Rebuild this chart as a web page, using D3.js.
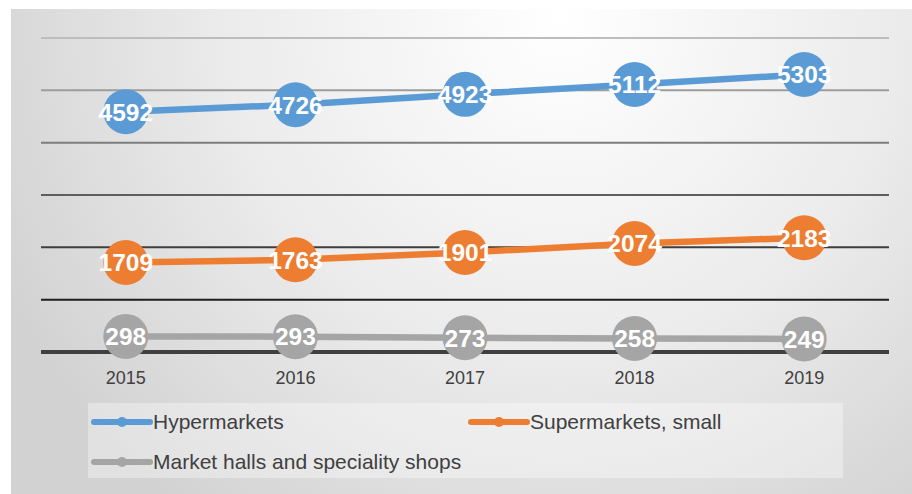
<!DOCTYPE html>
<html>
<head>
<meta charset="utf-8">
<script src="https://cdn.jsdelivr.net/npm/d3@7"></script>
<style>
  html, body { margin: 0; padding: 0; background: #fff; }
  svg { display: block; font-family: Arial, "Liberation Sans", sans-serif; }
</style>
</head>
<body>
<svg id="chart" width="912" height="494"></svg>
<script>
// Store counts by format, 2015–2019
const years = ["2015", "2016", "2017", "2018", "2019"];
const hypermarkets = [4592, 4726, 4923, 5112, 5303];
const supermarketsSmall = [1709, 1763, 1901, 2074, 2183];
const marketHalls = [298, 293, 273, 258, 249];
const seriesNames = ["Hypermarkets", "Supermarkets, small", "Market halls and speciality shops"];
const seriesColors = ["#5B9BD5", "#ED7D31", "#A5A5A5"];
const gridTicks = [0, 1000, 2000, 3000, 4000, 5000, 6000];

const series = [
  { name: seriesNames[0], values: hypermarkets, color: seriesColors[0] },
  { name: seriesNames[1], values: supermarketsSmall, color: seriesColors[1] },
  { name: seriesNames[2], values: marketHalls, color: seriesColors[2] }
];

const svg = d3.select("#chart");
const W = 912, H = 494;

// Background panel with a soft radial sheen
const defs = svg.append("defs");
const grad = defs.append("radialGradient")
  .attr("id", "bg")
  .attr("gradientUnits", "userSpaceOnUse")
  .attr("cx", 560).attr("cy", 20).attr("r", 620)
  .attr("fx", 560).attr("fy", 20);
grad.append("stop").attr("offset", "0%").attr("stop-color", "#ffffff");
grad.append("stop").attr("offset", "55%").attr("stop-color", "#ebebeb");
grad.append("stop").attr("offset", "100%").attr("stop-color", "#d2d2d2");

svg.append("rect")
  .attr("x", 11).attr("y", 9)
  .attr("width", W - 11).attr("height", H - 9)
  .attr("fill", "url(#bg)");

const plot = { left: 41, right: 889, top: 38, bottom: 352 };

const x = d3.scaleBand().domain(years).range([plot.left, plot.right]);
const y = d3.scaleLinear().domain([0, 6000]).range([plot.bottom, plot.top]);

// Gridlines: lighter at the top, darker toward the base
const gridColor = d3.scaleLinear().domain([1000, 6000]).range(["#1e1e1e", "#bdbdbd"]);
svg.append("g").selectAll("line")
  .data(gridTicks.filter(d => d > 0))
  .join("line")
  .attr("x1", plot.left).attr("x2", plot.right)
  .attr("y1", d => y(d)).attr("y2", d => y(d))
  .attr("stroke", d => gridColor(d))
  .attr("stroke-width", 2);

// Category axis baseline
svg.append("line")
  .attr("x1", plot.left).attr("x2", plot.right)
  .attr("y1", y(0)).attr("y2", y(0))
  .attr("stroke", "#404040")
  .attr("stroke-width", 4);

// Year labels
const xAxis = d3.axisBottom(x).tickSize(0).tickPadding(0);
const gx = svg.append("g")
  .attr("transform", `translate(0,${y(0)})`)
  .call(xAxis);
gx.select(".domain").remove();
gx.selectAll("text")
  .attr("dy", null)
  .attr("y", 32)
  .attr("fill", "#404040")
  .attr("font-size", 18)
  .attr("font-family", "Arial, 'Liberation Sans', sans-serif");

// Lines
const line = d3.line()
  .x((d, i) => x(years[i]) + x.bandwidth() / 2)
  .y(d => y(d));

const gs = svg.append("g").selectAll("g")
  .data(series)
  .join("g");

gs.append("path")
  .attr("d", d => line(d.values))
  .attr("fill", "none")
  .attr("stroke", d => d.color)
  .attr("stroke-width", 6.5)
  .attr("stroke-linecap", "round");

// Value bubbles
gs.each(function (s) {
  const g = d3.select(this);
  const pts = g.selectAll("g.pt")
    .data(s.values)
    .join("g")
    .attr("class", "pt")
    .attr("transform", (d, i) => `translate(${x(years[i]) + x.bandwidth() / 2},${y(d)})`);
  pts.append("circle")
    .attr("r", 22.5)
    .attr("fill", s.color);
  pts.append("text")
    .text(d => d)
    .attr("text-anchor", "middle")
    .attr("dy", "0.36em")
    .attr("fill", "#ffffff")
    .attr("font-weight", "bold")
    .attr("font-size", 24.5);
});

// Legend
svg.append("rect")
  .attr("x", 88).attr("y", 403)
  .attr("width", 755).attr("height", 75)
  .attr("fill", "#ffffff")
  .attr("fill-opacity", 0.35);

const legendPos = [
  { x: 94, y: 422 },
  { x: 471, y: 422 },
  { x: 94, y: 462 }
];

const lg = svg.append("g").selectAll("g")
  .data(series)
  .join("g")
  .attr("transform", (d, i) => `translate(${legendPos[i].x},${legendPos[i].y})`);

lg.append("line")
  .attr("x1", 0).attr("x2", 56)
  .attr("stroke", d => d.color)
  .attr("stroke-width", 6)
  .attr("stroke-linecap", "round");
lg.append("circle")
  .attr("cx", 28).attr("r", 5)
  .attr("fill", d => d.color);
lg.append("text")
  .text(d => d.name)
  .attr("x", 59)
  .attr("dy", "0.35em")
  .attr("fill", "#404040")
  .attr("font-size", 21);
</script>
</body>
</html>
